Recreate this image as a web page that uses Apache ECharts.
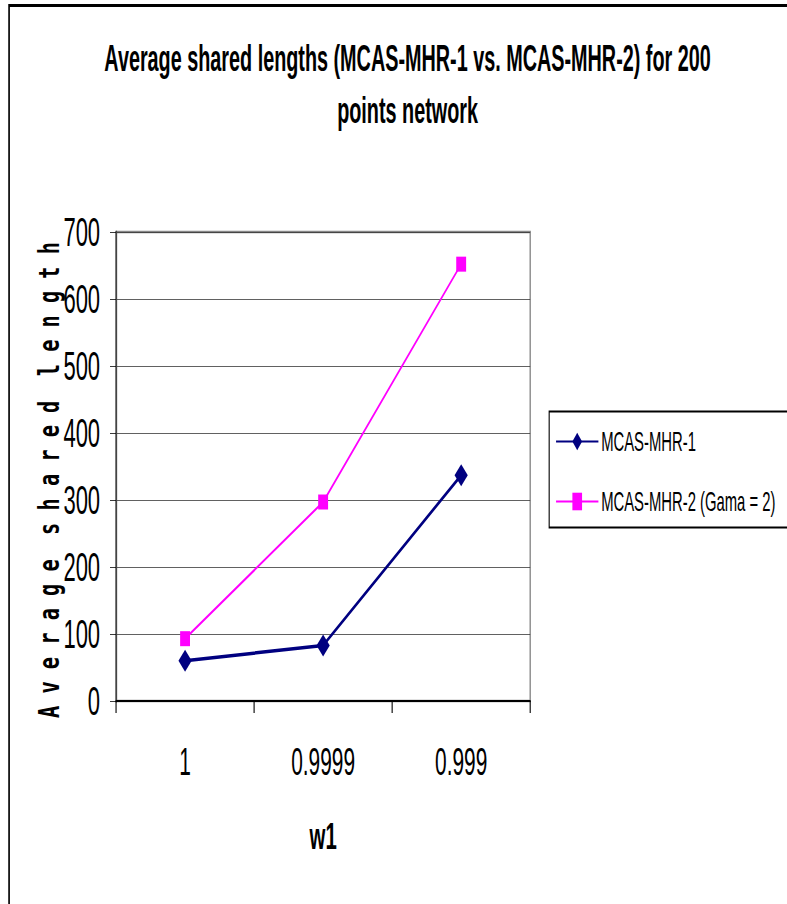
<!DOCTYPE html>
<html>
<head>
<meta charset="utf-8">
<script src="https://cdn.jsdelivr.net/npm/echarts@6/dist/echarts.min.js"></script>
<style>
html,body{margin:0;padding:0;background:#fff;overflow:hidden;width:787px;height:904px;}
#wrap{width:787px;height:904px;overflow:hidden;position:relative;}
#c{width:1431px;height:904px;transform:scaleX(0.55);transform-origin:0 0;position:absolute;left:0;top:0;}
</style>
</head>
<body>
<div id="wrap"><div id="c"></div></div>
<script>
const categories = ['1', '0.9999', '0.999'];
const mhr1 = [60, 83, 337];
const mhr2 = [93, 297, 652];
const seriesNames = ['MCAS-MHR-1', 'MCAS-MHR-2 (Gama = 2)'];
const titleText = 'Average shared lengths (MCAS-MHR-1 vs. MCAS-MHR-2) for 200\npoints network';
const yName = 'A v e r a g e  s h a r e d  l e n g t h';
const xName = 'w1';

const FONT = "'Liberation Sans',Arial,sans-serif";
const chart = echarts.init(document.getElementById('c'), null, {renderer: 'svg'});
chart.setOption({
  backgroundColor: '#fff',
  animation: false,
  title: {
    text: titleText,
    left: 736, top: 28, textAlign: 'center',
    textStyle: {fontFamily: FONT, fontWeight: 'bold', fontSize: 36, color: '#000', lineHeight: 52}
  },
  legend: {
    orient: 'vertical',
    left: 1005, top: 423,
    itemGap: 33,
    itemWidth: 77, itemHeight: 22,
    textStyle: {fontFamily: FONT, fontSize: 27, color: '#000'},
    data: seriesNames
  },
  grid: {left: 211, top: 232, right: 467, bottom: 203, show: true, borderColor: '#888', borderWidth: 2.5, backgroundColor: '#fff'},
  xAxis: {
    type: 'category',
    data: categories,
    boundaryGap: true,
    axisLine: {lineStyle: {color: '#000', width: 2}},
    axisTick: {show: true, length: 12, lineStyle: {color: '#000', width: 2}},
    axisLabel: {margin: 41, fontFamily: FONT, fontSize: 38, color: '#000'},
    name: xName, nameLocation: 'middle', nameGap: 135,
    nameTextStyle: {fontFamily: FONT, fontSize: 37, fontWeight: 'bold', color: '#000', verticalAlign: 'middle'}
  },
  yAxis: {
    type: 'value', min: 0, max: 700, interval: 100,
    axisLine: {show: true, lineStyle: {color: '#444', width: 3}},
    axisTick: {show: true, length: 11, lineStyle: {color: '#000', width: 1}},
    axisLabel: {margin: 29, fontFamily: FONT, fontSize: 40, color: '#000'},
    splitLine: {show: true, lineStyle: {color: '#333', width: 1}}
  },
  graphic: [
    {type: 'rect', left: 14, top: 3, shape: {width: 1500, height: 920}, style: {fill: 'none', stroke: '#000', lineWidth: 3}, z: -1},
    {type: 'rect', left: 996, top: 409, shape: {width: 600, height: 116}, style: {fill: 'none', stroke: '#000', lineWidth: 2}, z: -1},
    {type: 'text', x: 90, y: 480, rotation: Math.PI/2, scaleX: 0.39, scaleY: 1,
      style: {text: yName, fontFamily: "'DejaVu Sans Mono',monospace", fontSize: 52, fontWeight: 'bold', fill: '#000', textAlign: 'center', textVerticalAlign: 'middle'}}
  ],
  series: [
    {name: seriesNames[0], type: 'line', data: mhr1, symbol: 'diamond', symbolSize: [24, 22],
     lineStyle: {color: '#000080', width: 3.5}, itemStyle: {color: '#000080'}},
    {name: seriesNames[1], type: 'line', data: mhr2, symbol: 'rect', symbolSize: [18, 15],
     lineStyle: {color: '#FF00FF', width: 2.5}, itemStyle: {color: '#FF00FF'}}
  ]
});
</script>
</body>
</html>
